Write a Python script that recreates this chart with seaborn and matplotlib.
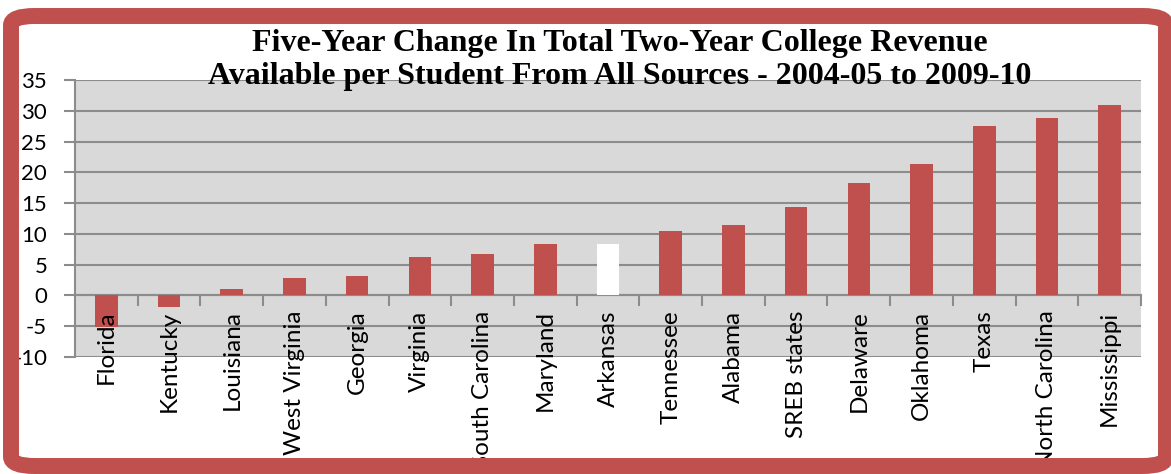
import matplotlib
matplotlib.use("Agg")
import matplotlib.pyplot as plt
from matplotlib.patches import FancyBboxPatch
from matplotlib.ticker import MultipleLocator, FixedLocator
from matplotlib.transforms import offset_copy
import seaborn as sns

# values (percent change)
states = ['Florida', 'Kentucky', 'Louisiana', 'West Virginia', 'Georgia', 'Virginia',
          'South Carolina', 'Maryland', 'Arkansas', 'Tennessee', 'Alabama', 'SREB states',
          'Delaware', 'Oklahoma', 'Texas', 'North Carolina', 'Mississippi']
change = [-5.2, -1.9, 1.0, 2.9, 3.1, 6.2, 6.7, 8.4, 8.4, 10.4, 11.5, 14.3,
          18.2, 21.4, 27.6, 28.9, 31.0]
highlight = 'Arkansas'

title = ("Five-Year Change In Total Two-Year College Revenue\n"
         "Available per Student From All Sources - 2004-05 to 2009-10")

red = '#c0504d'
colors = {s: ('white' if s == highlight else red) for s in states}

plt.rcParams['axes.unicode_minus'] = False

W, H = 1171, 474
fig = plt.figure(figsize=(W / 100, H / 100), dpi=100)
ax = fig.add_axes([75 / W, (H - 357) / H, (1141 - 75) / W, (357 - 80) / H])

sns.barplot(x=states, y=change, hue=states, palette=colors, legend=False,
            width=0.36, saturation=1, ax=ax, zorder=3)

ax.set_facecolor('#d9d9d9')
ax.set_xlim(-0.5, len(states) - 0.5)
ax.set_ylim(-10, 35)
ax.yaxis.set_major_locator(MultipleLocator(5))
ax.yaxis.grid(True, color='#8c8c8c', linewidth=1.5, zorder=1)
ax.set_axisbelow(True)

for sp in ['top', 'right']:
    ax.spines[sp].set_visible(False)
ax.spines['left'].set_color('#8c8c8c')
ax.spines['left'].set_linewidth(1.5)
ax.spines['bottom'].set_position(('data', 0))
ax.spines['bottom'].set_color('#8c8c8c')
ax.spines['bottom'].set_linewidth(1.5)

# tick marks between categories, labels drawn as text on top of the grid
ax.set_xticks([])
ax.xaxis.set_minor_locator(FixedLocator([i + 0.5 for i in range(len(states))]))
ax.tick_params(axis='x', which='minor', length=8, width=1.5, color='#8c8c8c', direction='out')
lab_tr = offset_copy(ax.transData, fig=fig, y=-15, units='dots')
for i, s in enumerate(states):
    ax.text(i, 0, s, rotation=90, ha='center', va='top', fontsize=17.5,
            family='Lato', transform=lab_tr, clip_on=False, zorder=6)

ax.tick_params(axis='y', length=8, width=1.5, color='#8c8c8c', labelsize=16, pad=12)
for lbl in ax.get_yticklabels():
    lbl.set_family('Lato')
ax.set_xlabel('')
ax.set_ylabel('')

fig.text(620 / W, 1 - 29 / H, title, ha='center', va='top', fontsize=23,
         fontweight='bold', family='Liberation Serif', linespacing=1.16)

# red rounded frame around the chart
frame = FancyBboxPatch((11 / W, 8 / H), (1166 - 11) / W, (H - 16 - 8) / H,
                       boxstyle='round,pad=0,rounding_size=0.02',
                       transform=fig.transFigure, facecolor='none',
                       edgecolor=red, linewidth=11.5, zorder=10)
fig.patches.append(frame)

fig.savefig('out.png', dpi=100)
